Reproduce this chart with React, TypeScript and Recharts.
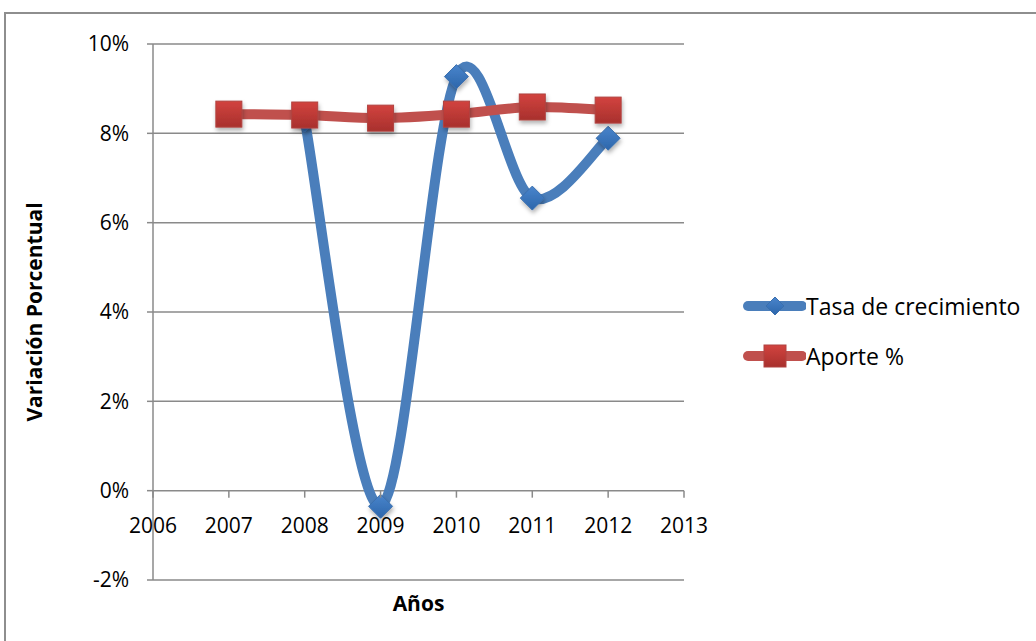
import React from 'react';
import {
  LineChart,
  Line,
  XAxis,
  YAxis,
  CartesianGrid,
  Legend,
} from 'recharts';

const years = [2007, 2008, 2009, 2010, 2011, 2012];
const tasaCrecimiento = [null, 8.3, -0.35, 9.27, 6.55, 7.89];
const aporte = [8.43, 8.41, 8.34, 8.43, 8.59, 8.52];
const xTicks = [2006, 2007, 2008, 2009, 2010, 2011, 2012, 2013];
const yTicks = [-2, 0, 2, 4, 6, 8, 10];

const data = years.map((year, i) => ({
  year,
  tasa: tasaCrecimiento[i],
  aporte: aporte[i],
}));

const FONT = '"Open Sans", Lato, sans-serif';
const BLUE = '#4a7ebb';
const RED = '#c0504d';
const GRID = '#8a8a8a';

const W = 1036;
const H = 641;
const M = { top: 44, right: 352, bottom: 0, left: 0 };
const X_AXIS_H = 61;
const plotH = H - M.top - M.bottom - X_AXIS_H;
const zeroY = M.top + (plotH * (10 - 0)) / 12;

// Excel-style smoothed line (Catmull-Rom through every point)
const excelSmooth: any = (context: any) => {
  let pts: number[][] = [];
  return {
    areaStart() {},
    areaEnd() {},
    lineStart() {
      pts = [];
    },
    point(x: number, y: number) {
      pts.push([+x, +y]);
    },
    lineEnd() {
      const n = pts.length;
      if (!n) return;
      context.moveTo(pts[0][0], pts[0][1]);
      for (let i = 0; i < n - 1; i++) {
        const p0 = pts[Math.max(i - 1, 0)];
        const p1 = pts[i];
        const p2 = pts[i + 1];
        const p3 = pts[Math.min(i + 2, n - 1)];
        context.bezierCurveTo(
          p1[0] + (p2[0] - p0[0]) / 6,
          p1[1] + (p2[1] - p0[1]) / 6,
          p2[0] - (p3[0] - p1[0]) / 6,
          p2[1] - (p3[1] - p1[1]) / 6,
          p2[0],
          p2[1]
        );
      }
    },
  };
};

const Diamond = ({ cx, cy, r = 12 }: any) => (
  <path
    d={`M${cx},${cy - r} L${cx + r},${cy} L${cx},${cy + r} L${cx - r},${cy} Z`}
    fill="url(#blueGrad)"
    stroke="#3a6fae"
    strokeWidth={1}
  />
);

const Square = ({ cx, cy, s = 13 }: any) => (
  <rect
    x={cx - s}
    y={cy - s}
    width={s * 2}
    height={s * 2}
    fill="url(#redGrad)"
    stroke="#b04340"
    strokeWidth={1}
  />
);

const BlueDot = (props: any) => {
  const { cx, cy, value } = props;
  if (value == null || cy == null) return <g key={props.key} />;
  return (
    <g key={props.key} filter="url(#shadow)">
      <Diamond cx={cx} cy={cy} />
    </g>
  );
};

const RedDot = (props: any) => {
  const { cx, cy, value } = props;
  if (value == null || cy == null) return <g key={props.key} />;
  return (
    <g key={props.key} filter="url(#shadow)">
      <Square cx={cx} cy={cy} />
    </g>
  );
};

const YearTick = (props: any) => {
  const { x, payload } = props;
  return (
    <g>
      <line x1={x} x2={x} y1={zeroY} y2={zeroY + 7} stroke={GRID} strokeWidth={1.5} />
      <text
        x={x}
        y={zeroY + 42}
        textAnchor="middle"
        fontSize={21}
        fontFamily={FONT}
        fill="#000"
      >
        {payload.value}
      </text>
    </g>
  );
};

const legendItems = [
  { name: 'Tasa de crecimiento', color: BLUE, marker: 'diamond' },
  { name: 'Aporte %', color: RED, marker: 'square' },
];

const LegendContent = () => (
  <div style={{ fontFamily: FONT, fontSize: 23, color: '#000', lineHeight: 1 }}>
    {legendItems.map((it) => (
      <div
        key={it.name}
        style={{ display: 'flex', alignItems: 'center', height: 50 }}
      >
        <svg width={64} height={28} style={{ display: 'block' }}>
          <line
            x1={6}
            x2={60}
            y1={14}
            y2={14}
            stroke={it.color}
            strokeWidth={10}
            strokeLinecap="round"
          />
          {it.marker === 'diamond' ? (
            <Diamond cx={33} cy={14} r={9} />
          ) : (
            <Square cx={33} cy={14} s={11} />
          )}
        </svg>
        <span>{it.name}</span>
      </div>
    ))}
  </div>
);

export default function App() {
  return (
    <div
      style={{
        position: 'fixed',
        left: 0,
        top: 0,
        width: W,
        height: H,
        background: '#fff',
        overflow: 'hidden',
      }}
    >
      <div
        style={{
          position: 'absolute',
          left: 4,
          top: 12,
          width: W + 20,
          height: H + 20,
          border: '2px solid #8e8e8e',
          boxSizing: 'border-box',
        }}
      />
      <div style={{ position: 'absolute', left: 0, top: 0 }}>
        <LineChart width={W} height={H} data={data} margin={M}>
          <defs>
            <linearGradient id="redGrad" x1="0" y1="0" x2="0" y2="1">
              <stop offset="0%" stopColor="#d2433f" />
              <stop offset="100%" stopColor="#a8302d" />
            </linearGradient>
            <linearGradient id="blueGrad" x1="0" y1="0" x2="0" y2="1">
              <stop offset="0%" stopColor="#4a85cc" />
              <stop offset="100%" stopColor="#2c66ab" />
            </linearGradient>
            <filter id="shadow" x="-50%" y="-50%" width="200%" height="200%">
              <feDropShadow dx="1" dy="3" stdDeviation="2" floodColor="#000" floodOpacity="0.3" />
            </filter>
          </defs>
          <CartesianGrid vertical={false} stroke={GRID} strokeWidth={1.5} />
          <XAxis
            dataKey="year"
            type="number"
            domain={[2006, 2013]}
            ticks={xTicks}
            height={X_AXIS_H}
            axisLine={false}
            tickLine={false}
            tick={<YearTick />}
            interval={0}
            label={{
              value: 'Años',
              position: 'insideBottom',
              offset: 30,
              style: { fontFamily: FONT, fontSize: 21, fontWeight: 700, fill: '#000' },
            }}
          />
          <YAxis
            domain={[-2, 10]}
            ticks={yTicks}
            width={153}
            tickFormatter={(v) => `${v}%`}
            axisLine={{ stroke: GRID, strokeWidth: 1.5 }}
            tickLine={{ stroke: GRID, strokeWidth: 1.5 }}
            tickSize={6}
            tickMargin={18}
            tick={{ fontFamily: FONT, fontSize: 21, fill: '#000' }}
            label={{
              value: 'Variación Porcentual',
              angle: -90,
              position: 'insideLeft',
              offset: 35,
              style: {
                fontFamily: FONT,
                fontSize: 21,
                fontWeight: 700,
                fill: '#000',
                textAnchor: 'middle',
              },
            }}
          />
          <Legend
            layout="vertical"
            align="center"
            verticalAlign="middle"
            content={<LegendContent />}
            wrapperStyle={{ position: 'absolute', left: 742, top: 281, width: 294 }}
          />
          <Line
            dataKey="tasa"
            name="Tasa de crecimiento"
            type={excelSmooth}
            stroke={BLUE}
            strokeWidth={10}
            strokeLinecap="round"
            dot={<BlueDot />}
            activeDot={false}
            legendType="none"
            isAnimationActive={false}
          />
          <Line
            dataKey="aporte"
            name="Aporte %"
            type={excelSmooth}
            stroke={RED}
            strokeWidth={10}
            strokeLinecap="round"
            dot={<RedDot />}
            activeDot={false}
            legendType="none"
            isAnimationActive={false}
          />
        </LineChart>
      </div>
    </div>
  );
}
